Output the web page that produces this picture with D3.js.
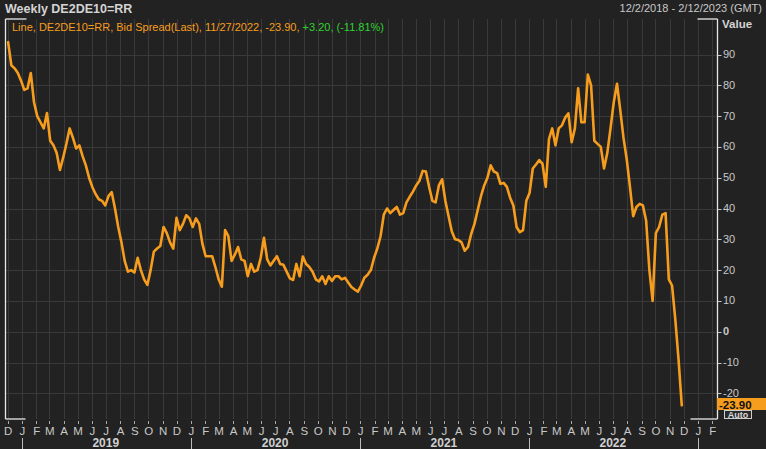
<!DOCTYPE html>
<html><head><meta charset="utf-8">
<script src="https://cdn.jsdelivr.net/npm/d3@7/dist/d3.min.js"></script>
<style>
html,body{margin:0;padding:0;background:#222222;}
svg{display:block;font-family:"Liberation Sans","DejaVu Sans",Arial,sans-serif;}
</style></head>
<body>
<svg id="c" width="766" height="449"></svg>
<script>
// ---- data ----
const title = "Weekly DE2DE10=RR";
const rangeLabel = "12/2/2018 - 2/12/2023 (GMT)";
const legendMain = "Line, DE2DE10=RR, Bid Spread(Last), 11/27/2022, -23.90, ";
const legendChange = "+3.20, (-11.81%)";
const firstWeek = "2018-12-02";
const lastLabel = "-23.90";
const yTicks = [90, 80, 70, 60, 50, 40, 30, 20, 10, 0, -10, -20];
const years = [2019, 2020, 2021, 2022];
const monthLetters = ["J","F","M","A","M","J","J","A","S","O","N","D"];
const values = [
 94, 86.5, 85.5, 84, 81.5, 78.5, 79, 84, 74.5, 70,
 68, 66, 71, 62, 60.5, 58, 52.5, 56.5, 61, 66,
 63, 59.5, 60.5, 57, 54, 50, 47, 44.7, 43, 42.5,
 41, 44, 45.3, 40, 34, 29, 23, 19.5, 20, 19.2,
 24, 20, 17, 15.2, 20, 26, 27, 27.8, 34, 32,
 29, 27, 37, 33, 35, 37.8, 36.8, 34, 36.8, 35,
 28.5, 24.5, 24.5, 24.5, 21, 17, 14.6, 33, 31, 23,
 25, 27.5, 23.5, 23, 18, 22, 19.5, 20, 24, 30.5,
 23.5, 21.5, 23, 24.5, 22, 21.7, 19.5, 17.3, 16.8, 22,
 18, 24.4, 22, 21, 19.5, 17, 16.3, 18, 15.5, 18,
 16.5, 18, 18, 17, 17.5, 16, 14.5, 13.7, 13, 15,
 17.5, 18.5, 20, 24, 27, 31, 38, 40, 38.5, 39.5,
 40.5, 38, 38.5, 42, 43.8, 45.5, 47.5, 49, 52.2, 52,
 47, 42.5, 42, 47.5, 49.5, 42.5, 37.5, 32.5, 30, 29.8,
 29, 26.3, 27.5, 31.8, 35, 39.5, 44, 47.5, 50, 54,
 52, 51.5, 48, 48.3, 47, 43.5, 41, 34, 32.3, 33,
 42.5, 45, 53, 54.3, 55.7, 54.5, 47, 62.5, 66, 60.5,
 66, 67, 69.5, 70.9, 61.5, 66, 79, 68, 68, 83.5,
 80, 62, 61, 60, 53, 58, 66, 74.5, 80.5, 72,
 63, 56, 47, 37.5, 40.5, 41.5, 41, 36, 20, 10,
 32, 34, 38, 38.5, 17, 15, 4, -9, -23.9
];

// ---- layout ----
const W = 766, H = 449;
const plotL = 5.5, plotR = 717.5, plotT = 19, plotB = 419;
const bg = "#222222", grid = "#393939", txt = "#c8c8c8", orange = "#f79d1e", green = "#2fd12f";

const svg = d3.select("#c");
svg.append("rect").attr("width", W).attr("height", H).attr("fill", bg);

const t0 = d3.utcParse("%Y-%m-%d")(firstWeek);
const data = values.map((v, i) => ({ d: d3.utcDay.offset(t0, 7 * i), v }));

const x = d3.scaleUtc()
  .domain([t0, new Date(Date.UTC(2023, 1, 12))])
  .range([8.1, 717.4]);
const y = d3.scaleLinear().domain([-20, 90]).range([393.3, 54.5]);

const months = d3.utcMonth.range(new Date(Date.UTC(2018, 11, 1)), new Date(Date.UTC(2023, 2, 1)));

// gridlines
const g = svg.append("g");
g.selectAll("line.v").data(months.filter(m => x(m) > plotL + 1 && x(m) < plotR - 1)).join("line")
  .attr("x1", d => Math.round(x(d)) + 0.5).attr("x2", d => Math.round(x(d)) + 0.5)
  .attr("y1", plotT).attr("y2", plotB).attr("stroke", grid).attr("stroke-width", 1);
g.selectAll("line.h").data(yTicks).join("line")
  .attr("x1", plotL).attr("x2", plotR)
  .attr("y1", d => Math.round(y(d)) + 0.5).attr("y2", d => Math.round(y(d)) + 0.5)
  .attr("stroke", grid).attr("stroke-width", 1);

// frame (white)
const fr = svg.append("g").attr("stroke", "#e8e8e8").attr("stroke-width", 1.3).attr("fill", "none");
fr.append("line").attr("x1", plotL).attr("x2", plotL).attr("y1", plotT).attr("y2", plotB);
fr.append("line").attr("x1", plotR).attr("x2", plotR).attr("y1", plotT).attr("y2", plotB);
fr.append("line").attr("x1", plotL).attr("x2", plotL + 21).attr("y1", plotT).attr("y2", plotT);
fr.append("line").attr("x1", plotR - 20).attr("x2", plotR).attr("y1", plotT).attr("y2", plotT);
fr.append("line").attr("x1", plotL).attr("x2", plotL + 20).attr("y1", plotB).attr("y2", plotB);
fr.append("line").attr("x1", plotR - 27).attr("x2", plotR).attr("y1", plotB).attr("y2", plotB);

// series
svg.append("path").datum(data)
  .attr("fill", "none").attr("stroke", orange).attr("stroke-width", 2.6)
  .attr("stroke-linejoin", "round").attr("stroke-linecap", "round")
  .attr("d", d3.line().x(d => x(d.d)).y(d => y(d.v)));

// right axis
const ra = svg.append("g");
ra.selectAll("line").data(yTicks).join("line")
  .attr("x1", plotR).attr("x2", plotR + 4)
  .attr("y1", d => Math.round(y(d)) + 0.5).attr("y2", d => Math.round(y(d)) + 0.5)
  .attr("stroke", txt);
ra.selectAll("text").data(yTicks).join("text")
  .attr("x", 723).attr("y", d => y(d) + 3.5)
  .attr("fill", txt).attr("font-size", 11)
  .attr("font-weight", d => d === 0 ? "bold" : "normal")
  .text(d => d);

// last value label
svg.append("rect").attr("x", 717).attr("y", 398).attr("width", 49).attr("height", 12).attr("fill", orange);
svg.append("text").attr("x", 719).attr("y", 408.5).attr("fill", "#111").attr("font-size", 11.5).attr("font-weight", "bold").text(lastLabel);
svg.append("rect").attr("x", 724.5).attr("y", 410.5).attr("width", 27).attr("height", 8).attr("fill", "#2a2a2a").attr("stroke", "#cfcfcf").attr("stroke-width", 1);
svg.append("text").attr("x", 738).attr("y", 418).attr("text-anchor", "middle").attr("fill", "#d8d8d8").attr("font-size", 9).attr("font-weight", "bold").text("Auto");

// bottom axis
const ba = svg.append("g");
const mVis = months.filter(m => x(m) >= 5 && x(m) <= 716);
ba.selectAll("line").data(mVis).join("line")
  .attr("x1", d => Math.round(x(d)) + 0.5).attr("x2", d => Math.round(x(d)) + 0.5)
  .attr("y1", 421).attr("y2", 424).attr("stroke", "#aaa");
ba.selectAll("text").data(mVis).join("text")
  .attr("x", d => x(d) + 0.5).attr("y", 435)
  .attr("text-anchor", "middle").attr("fill", txt).attr("font-size", 11.5)
  .text(d => monthLetters[d.getUTCMonth()]);
const yrStarts = years.map(yr => new Date(Date.UTC(yr, 0, 1))).concat([new Date(Date.UTC(2023, 0, 1))]);
ba.selectAll("line.yr").data(yrStarts).join("line")
  .attr("x1", d => Math.round(x(d)) + 0.5).attr("x2", d => Math.round(x(d)) + 0.5)
  .attr("y1", 438).attr("y2", 449).attr("stroke", "#bbb");
ba.selectAll("text.yr").data(years).join("text")
  .attr("x", d => x(new Date(Date.UTC(d, 6, 1)))).attr("y", 447)
  .attr("text-anchor", "middle").attr("fill", "#d0d0d0").attr("font-size", 12).attr("font-weight", "bold")
  .text(d => d);

// header texts
svg.append("text").attr("x", 5).attr("y", 13).attr("fill", "#d4d4d4").attr("font-size", 12.5).attr("font-weight", "bold").text(title);
svg.append("text").attr("x", 762).attr("y", 12).attr("text-anchor", "end").attr("fill", txt).attr("font-size", 11).text(rangeLabel);
svg.append("text").attr("x", 722).attr("y", 28).attr("fill", "#d4d4d4").attr("font-size", 11.5).attr("font-weight", "bold").text("Value");
const lg = svg.append("text").attr("x", 12).attr("y", 31).attr("font-size", 11);
lg.append("tspan").attr("fill", orange).text(legendMain);
lg.append("tspan").attr("fill", green).text(legendChange);
</script>
</body></html>
